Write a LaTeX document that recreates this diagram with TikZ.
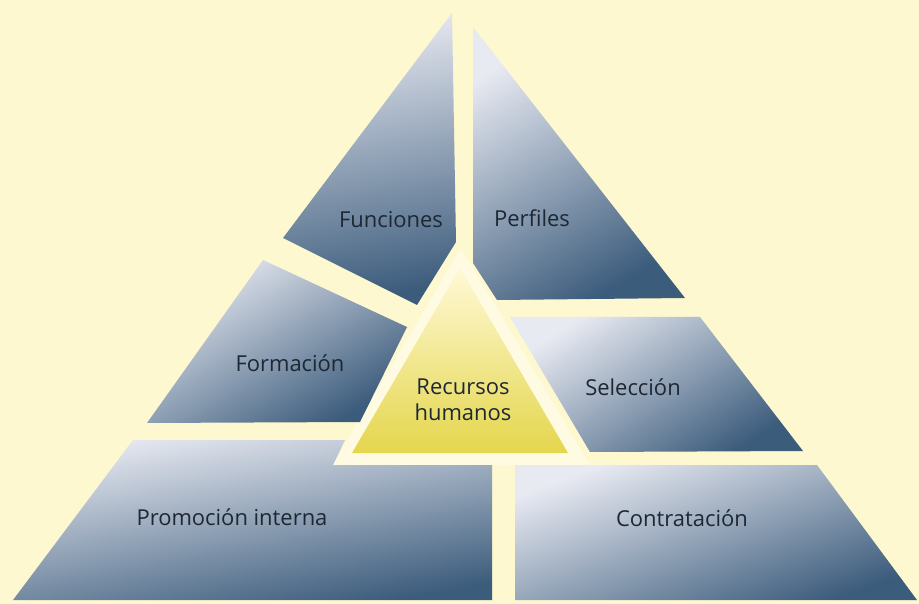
\documentclass[tikz,border=0pt]{standalone}
\usepackage{fontspec}
\setmainfont{Open Sans}
\definecolor{bg}{HTML}{FDF8D0}
\definecolor{rim}{HTML}{FFFBE2}
\definecolor{pl}{HTML}{E8EAF2}
\definecolor{pm}{HTML}{8FA2BE}
\definecolor{pd}{HTML}{3C5C7C}
\definecolor{yl}{HTML}{FFF9D6}
\definecolor{yd}{HTML}{E4D64C}
\definecolor{txt}{HTML}{1E2833}
\tikzset{
  piece/.style={top color=pl, middle color=pm, bottom color=pd, shading angle=#1},
  piece/.default=45,
  lbl/.style={text=txt, font=\fontsize{12.5}{15}\selectfont, align=center, inner sep=0pt}
}
\begin{document}
\begin{tikzpicture}[x=0.02cm,y=-0.02cm]
\fill[bg] (0,0) rectangle (919,604);
\useasboundingbox (0,0) rectangle (919,604);
% central rim and yellow triangle
\fill[rim] (461,248) -- (590,465) -- (333,465) -- cycle;
\shade[top color=yl, bottom color=yd] (460,268) -- (568,453) -- (352,453) -- cycle;
% pieces
\shade[piece=10] (452,13) -- (456,242) -- (417,305) -- (283,238) -- cycle;
\shade[piece=30] (473,27) -- (685,298) -- (497,300) -- (473,263) -- cycle;
\shade[piece=30] (263,260) -- (407,327) -- (360,422) -- (147,423) -- cycle;
\shade[piece=32] (510,317) -- (700,317) -- (803,451) -- (590,452) -- cycle;
\shade[piece=10] (133,440) -- (345,440) -- (333,465) -- (492,465) -- (492,600) -- (13,600) -- cycle;
\shade[piece=20] (515,465) -- (817,465) -- (917,600) -- (515,600) -- cycle;
% labels
\node[lbl] (fun) at (391,220) {Funciones};
\node[lbl] (per) at (532,218) {Perfiles};
\node[lbl] (for) at (290,363) {Formación};
\node[lbl] (rh)  at (463,400) {Recursos\\humanos};
\node[lbl] (sel) at (633,387) {Selección};
\node[lbl] (pro) at (232,517) {Promoción interna};
\node[lbl] (con) at (682,518) {Contratación};
\end{tikzpicture}
\end{document}
